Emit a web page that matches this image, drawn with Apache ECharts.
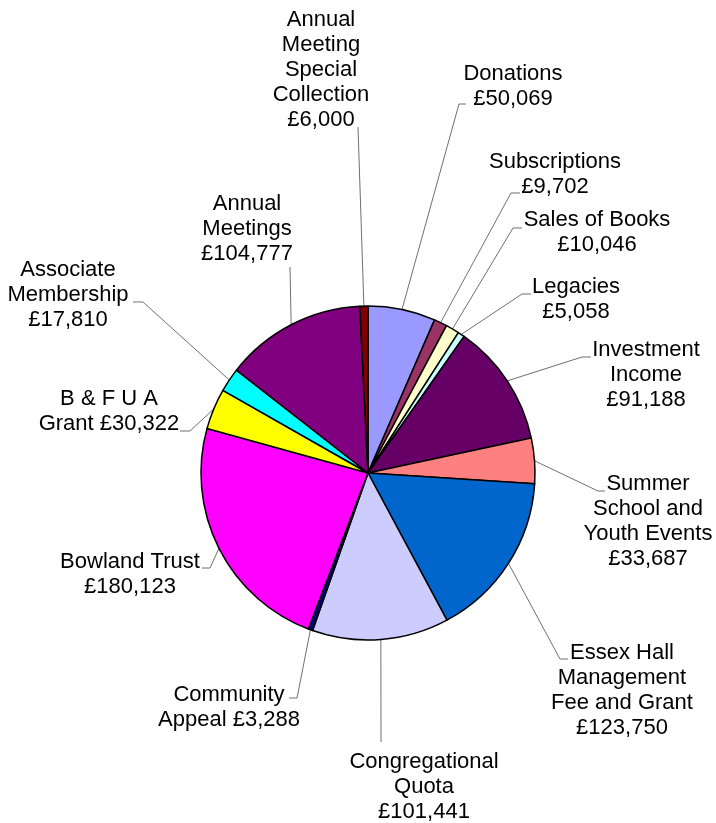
<html>
  <head>
    <meta charset="utf-8">
    <style>
      body { margin: 0; background: #fff; }
      #income { width: 716px; height: 823px; }
    </style>
  </head>
  <body>
    <div id="income"></div>
  </body>
  <script src="https://cdn.jsdelivr.net/npm/echarts@6/dist/echarts.min.js"></script>
  <script>

// income sources, clockwise from 12 o'clock
var names = ['Donations', 'Subscriptions', 'Sales of Books', 'Legacies', 'Investment Income',
  'Summer School and Youth Events', 'Essex Hall Management Fee and Grant', 'Congregational Quota',
  'Community Appeal', 'Bowland Trust', 'B & F U A Grant', 'Associate Membership',
  'Annual Meetings', 'Annual Meeting Special Collection'];
var values = [50069, 9702, 10046, 5058, 91188, 33687, 123750, 101441, 3288, 180123, 30322, 17810, 104777, 6000];
// how each label wraps, as in the picture
var labelNames = ['Donations', 'Subscriptions', 'Sales of Books', 'Legacies', 'Investment\nIncome',
  'Summer\nSchool and\nYouth Events', 'Essex Hall\nManagement\nFee and Grant', 'Congregational\nQuota',
  'Community\nAppeal', 'Bowland Trust', 'B & F U A\nGrant', 'Associate\nMembership',
  'Annual\nMeetings', 'Annual\nMeeting\nSpecial\nCollection'];
var valueOnSameLine = [8, 10];

var colors = ['#9999FF', '#993366', '#FFFFCC', '#CCFFFF', '#660066', '#FF8080', '#0066CC',
  '#CCCCFF', '#000080', '#FF00FF', '#FFFF00', '#00FFFF', '#800080', '#800000'];

// label centres and leader line elbows/ends
var labelAt = [[513, 86], [555, 174], [597, 232], [576, 299], [646, 375], [648, 521], [622, 690],
  [424, 787], [229, 707], [130, 574], [109, 411], [68, 295], [247, 229], [321, 70]];
var leaderAt = [[[459, 104], [466, 104]], [[511, 193], [520, 193]], [[513, 228], [522, 228]],
  [[522, 294], [531, 294]], [[582, 357], [591, 357]], [[598, 491], [605, 491]],
  [[560, 659], [568, 659]], [[381, 742], [381, 742]], [[297, 698], [289, 698]],
  [[210, 568], [202, 568]], [[190, 431], [180, 431]], [[143, 302], [133, 302]],
  [[290, 267], [290, 267]], [[358, 127], [358, 127]]];

var data = [];
for (var i = 0; i < names.length; i++) {
  data.push({name: names[i], value: values[i], itemStyle: {color: colors[i]}});
}

var chart = echarts.init(document.getElementById('income'));
chart.setOption({
  backgroundColor: '#fff',
  animation: false,
  series: [
    {
      type: 'pie',
      center: [368, 473],
      radius: 167,
      startAngle: 90,
      clockwise: true,
      avoidLabelOverlap: false,
      data: data,
      itemStyle: {borderColor: '#000', borderWidth: 1.5},
      label: {
        position: 'outside',
        color: '#000',
        fontFamily: 'Liberation Sans, Arial, sans-serif',
        fontSize: 22,
        lineHeight: 25,
        align: 'center',
        formatter: function (p) {
          var sep = valueOnSameLine.indexOf(p.dataIndex) >= 0 ? ' ' : '\n';
          return labelNames[p.dataIndex] + sep + '£' + p.value.toLocaleString('en-GB');
        }
      },
      labelLine: {
        show: true,
        length: 10,
        length2: 10,
        smooth: false,
        lineStyle: {color: '#707070', width: 1}
      },
      labelLayout: function (params) {
        var i = params.dataIndex;
        var start = params.labelLinePoints ? params.labelLinePoints[0] : leaderAt[i][0];
        return {
          x: labelAt[i][0],
          y: labelAt[i][1],
          align: 'center',
          verticalAlign: 'middle',
          labelLinePoints: [start, leaderAt[i][0], leaderAt[i][1]]
        };
      }
    }
  ]
});
  </script>
</html>
